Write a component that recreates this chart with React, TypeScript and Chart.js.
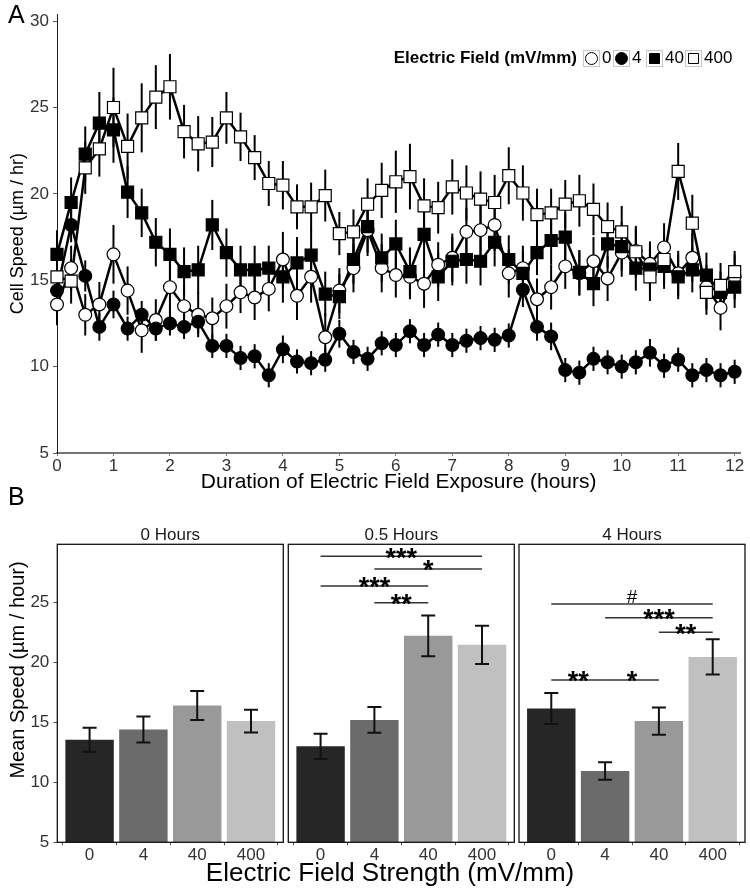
import React, { useEffect, useRef } from "react";
import { Chart, registerables } from "chart.js";

Chart.register(...registerables);

const FONT = "'Liberation Sans', Arial, Helvetica, sans-serif";

// ---------- Panel A data ----------
const timeHours = [0, 0.25, 0.5, 0.75, 1, 1.25, 1.5, 1.75, 2, 2.25, 2.5, 2.75, 3, 3.25, 3.5, 3.75, 4, 4.25, 4.5, 4.75, 5, 5.25, 5.5, 5.75, 6, 6.25, 6.5, 6.75, 7, 7.25, 7.5, 7.75, 8, 8.25, 8.5, 8.75, 9, 9.25, 9.5, 9.75, 10, 10.25, 10.5, 10.75, 11, 11.25, 11.5, 11.75, 12];

const speed0 = [13.6, 15.7, 13.0, 13.6, 16.5, 14.4, 12.1, 12.7, 14.6, 13.5, 13.0, 12.8, 13.5, 14.3, 14.0, 14.5, 16.2, 14.1, 15.2, 11.7, 14.4, 15.7, 17.9, 15.7, 15.3, 15.2, 14.8, 15.9, 16.3, 17.8, 17.9, 18.2, 15.4, 15.7, 13.9, 14.6, 15.8, 15.4, 16.1, 15.1, 16.6, 16.7, 15.95, 16.9, 15.4, 16.3, 14.6, 13.4, 15.2];
const err0 = [1.2, 1.3, 1.2, 1.3, 1.7, 1.4, 1.3, 1.2, 1.5, 1.3, 1.3, 1.2, 1.3, 1.2, 1.3, 1.3, 1.6, 1.4, 1.5, 1.4, 1.3, 1.4, 1.5, 1.4, 1.3, 1.3, 1.4, 1.3, 1.4, 1.4, 1.5, 1.5, 1.4, 1.3, 1.2, 1.3, 1.3, 1.3, 1.4, 1.3, 1.4, 1.3, 1.3, 1.4, 1.3, 1.4, 1.3, 1.3, 1.3];

const speed4 = [14.4, 18.2, 15.25, 12.3, 13.6, 12.2, 13.0, 12.2, 12.5, 12.3, 12.6, 11.2, 11.2, 10.5, 10.6, 9.5, 11.0, 10.3, 10.2, 10.4, 11.9, 10.85, 10.45, 11.35, 11.25, 12.05, 11.25, 11.85, 11.25, 11.5, 11.65, 11.55, 11.8, 14.45, 12.3, 11.75, 9.8, 9.65, 10.45, 10.25, 10.0, 10.25, 10.8, 10.05, 10.4, 9.5, 9.8, 9.5, 9.7];
const err4 = [0.8, 1.0, 0.9, 0.8, 0.8, 0.7, 0.8, 0.7, 0.7, 0.7, 0.7, 0.7, 0.7, 0.7, 0.7, 0.7, 0.8, 0.7, 0.7, 0.7, 0.8, 0.7, 0.7, 0.7, 0.7, 0.7, 0.7, 0.7, 0.7, 0.7, 0.7, 0.7, 0.7, 1.0, 0.8, 0.8, 0.7, 0.7, 0.7, 0.7, 0.7, 0.7, 0.8, 0.7, 0.7, 0.7, 0.7, 0.7, 0.7];

const speed40 = [16.5, 19.5, 22.3, 24.1, 23.7, 20.1, 18.9, 17.2, 16.5, 15.5, 15.6, 18.2, 16.6, 15.6, 15.6, 15.7, 15.2, 16.0, 16.45, 14.2, 14.05, 16.2, 18.1, 16.3, 17.1, 15.5, 17.65, 15.2, 16.1, 16.2, 16.1, 17.2, 16.2, 15.4, 16.6, 17.3, 17.5, 15.45, 14.8, 17.1, 16.95, 15.7, 15.65, 15.8, 15.2, 15.6, 15.3, 14.3, 14.6];
const err40 = [1.4, 1.45, 1.6, 1.8, 1.9, 1.5, 1.4, 1.4, 1.5, 1.4, 1.4, 1.45, 1.4, 1.4, 1.4, 1.3, 1.5, 1.5, 1.5, 1.3, 1.3, 1.4, 1.5, 1.4, 1.4, 1.4, 1.5, 1.4, 1.4, 1.4, 1.4, 1.4, 1.4, 1.3, 1.3, 1.4, 1.4, 1.3, 1.3, 1.4, 1.4, 1.3, 1.3, 1.3, 1.3, 1.3, 1.3, 1.2, 1.2];

const speed400 = [15.2, 14.95, 21.5, 22.6, 25.0, 22.75, 24.4, 25.6, 26.2, 23.6, 22.9, 23.0, 24.4, 23.3, 22.1, 20.6, 20.5, 19.25, 19.25, 19.9, 17.7, 17.8, 19.4, 20.2, 20.7, 21.0, 19.3, 19.2, 20.4, 20.05, 19.7, 19.5, 21.05, 20.05, 18.8, 18.9, 19.4, 19.6, 19.1, 18.1, 17.8, 16.65, 15.2, 16.2, 21.3, 18.3, 14.3, 14.7, 15.5];
const err400 = [1.3, 1.3, 1.5, 1.6, 2.3, 1.9, 2.0, 1.85, 1.9, 1.55, 1.6, 1.45, 1.5, 1.4, 1.3, 1.3, 1.4, 1.3, 1.4, 1.5, 1.25, 1.3, 1.5, 1.6, 1.8, 1.9, 1.6, 1.5, 1.6, 1.6, 1.6, 1.6, 1.65, 1.6, 1.5, 1.4, 1.4, 1.5, 1.5, 1.4, 1.5, 1.5, 1.4, 1.4, 1.65, 1.65, 1.3, 1.3, 1.2];

const xTicksA = [0, 1, 2, 3, 4, 5, 6, 7, 8, 9, 10, 11, 12];
const yTicksA = [5, 10, 15, 20, 25, 30];
const fieldLabels = ["0", "4", "40", "400"];
const legendTitle = "Electric Field (mV/mm)";

// ---------- Panel B data ----------
const facetTitles = ["0 Hours", "0.5 Hours", "4 Hours"];
const mean0h = [13.55, 14.4, 16.4, 15.1];
const sem0h = [1.0, 1.08, 1.2, 0.95];
const mean05h = [13.0, 15.2, 22.2, 21.45];
const sem05h = [1.05, 1.08, 1.7, 1.6];
const mean4h = [16.15, 10.95, 15.1, 20.45];
const sem4h = [1.3, 0.73, 1.13, 1.46];
const yTicksB = [5, 10, 15, 20, 25];

const sig0h: { from: number; to: number; y: number; label: string }[] = [];
const sig05h = [
  { from: 0, to: 3, y: 28.83, label: "***" },
  { from: 1, to: 3, y: 27.78, label: "*" },
  { from: 0, to: 2, y: 26.36, label: "***" },
  { from: 1, to: 2, y: 24.97, label: "**" },
];
const sig4h = [
  { from: 0, to: 3, y: 24.86, label: "#" },
  { from: 1, to: 3, y: 23.72, label: "***" },
  { from: 2, to: 3, y: 22.5, label: "**" },
  { from: 0, to: 1, y: 18.53, label: "**" },
  { from: 1, to: 2, y: 18.53, label: "*" },
];

const barColors = ["#262626", "#6b6b6b", "#999999", "#c0c0c0"];

const seriesA = [
  { label: fieldLabels[0], values: speed0, errs: err0, style: "circle", fill: "#ffffff" },
  { label: fieldLabels[1], values: speed4, errs: err4, style: "circle", fill: "#000000" },
  { label: fieldLabels[2], values: speed40, errs: err40, style: "rect", fill: "#000000" },
  { label: fieldLabels[3], values: speed400, errs: err400, style: "rect", fill: "#ffffff" },
];

function TimeCourseChart() {
  const ref = useRef<HTMLCanvasElement>(null);
  useEffect(() => {
    if (!ref.current) return;
    const errorBars = {
      id: "errorBarsA",
      beforeDatasetsDraw(chart: any) {
        const { ctx, scales } = chart;
        const x = scales.x, y = scales.y;
        ctx.save();
        ctx.strokeStyle = "#000";
        ctx.lineWidth = 2;
        seriesA.forEach((s) => {
          s.values.forEach((v, i) => {
            const px = x.getPixelForValue(timeHours[i]);
            ctx.beginPath();
            ctx.moveTo(px, y.getPixelForValue(v - s.errs[i]));
            ctx.lineTo(px, y.getPixelForValue(v + s.errs[i]));
            ctx.stroke();
          });
        });
        ctx.restore();
      },
    };
    const legend = {
      id: "legendA",
      afterDraw(chart: any) {
        const ctx = chart.ctx;
        ctx.save();
        ctx.font = `bold 17px ${FONT}`;
        ctx.fillStyle = "#000";
        ctx.textAlign = "right";
        ctx.textBaseline = "middle";
        ctx.fillText(legendTitle, 577, 58.5);
        const boxX = [583, 613, 646, 685];
        ctx.font = `17px ${FONT}`;
        ctx.textAlign = "left";
        seriesA.forEach((s, i) => {
          const bx = boxX[i];
          ctx.fillStyle = "#fff";
          ctx.fillRect(bx, 50, 17, 17);
          ctx.strokeStyle = "#c8c8c8";
          ctx.lineWidth = 1;
          ctx.strokeRect(bx + 0.5, 50.5, 16, 16);
          const cx = bx + 8.5, cy = 58.5;
          ctx.beginPath();
          if (s.style === "circle") ctx.arc(cx, cy, 6, 0, Math.PI * 2);
          else ctx.rect(cx - 5, cy - 5, 10, 10);
          ctx.fillStyle = s.fill;
          ctx.fill();
          ctx.strokeStyle = "#000";
          ctx.stroke();
          ctx.fillStyle = "#000";
          ctx.fillText(s.label, bx + 19, cy);
        });
        ctx.restore();
      },
    };
    const toPoints = (vals: number[]) => vals.map((v, i) => ({ x: timeHours[i], y: v }));
    const lineSets = seriesA.map((s, i) => ({
      label: s.label + " line",
      data: toPoints(s.values),
      borderColor: "#000",
      borderWidth: 2.5,
      pointRadius: 0,
      tension: 0,
      order: 20 - i,
    }));
    const pointSets = seriesA.map((s, i) => ({
      label: s.label,
      data: toPoints(s.values),
      showLine: false,
      pointStyle: s.style as any,
      pointRadius: s.style === "rect" ? 8.5 : 6.4,
      pointBackgroundColor: s.fill,
      pointBorderColor: "#000",
      pointBorderWidth: 1.2,
      order: 10 - i,
      clip: false as any,
    }));
    const chart = new Chart(ref.current, {
      type: "line",
      data: { datasets: [...lineSets, ...pointSets] as any },
      options: {
        responsive: false,
        animation: false,
        layout: { padding: { left: 0, right: 4, top: 8, bottom: 0 } },
        plugins: { legend: { display: false }, tooltip: { enabled: false } },
        scales: {
          x: {
            type: "linear",
            min: 0,
            max: 12.1,
            afterBuildTicks: (s: any) => {
              s.ticks = xTicksA.map((v) => ({ value: v }));
            },
            afterFit: (s: any) => {
              s.height = 47;
            },
            ticks: { font: { family: FONT, size: 17 }, color: "#333", padding: 0, maxRotation: 0, autoSkip: false },
            grid: { display: true, drawOnChartArea: false, drawTicks: true, tickLength: 3, color: "#777" },
            border: { display: true, color: "#777", width: 2 },
            title: {
              display: true,
              text: "Duration of Electric Field Exposure (hours)",
              font: { family: FONT, size: 21 },
              color: "#000",
              padding: { top: 0, bottom: 5 },
            },
          },
          y: {
            type: "linear",
            min: 5,
            max: 30.4,
            afterBuildTicks: (s: any) => {
              s.ticks = yTicksA.map((v) => ({ value: v }));
            },
            afterFit: (s: any) => {
              s.width = 57;
            },
            ticks: { font: { family: FONT, size: 17 }, color: "#333", padding: 4 },
            grid: { display: true, drawOnChartArea: false, drawTicks: true, tickLength: 4, color: "#555" },
            border: { display: true, color: "#222", width: 1 },
            title: {
              display: true,
              text: "Cell Speed (µm / hr)",
              font: { family: FONT, size: 18 },
              color: "#000",
              padding: { top: 7, bottom: 0 },
            },
          },
        },
      },
      plugins: [errorBars, legend],
    });
    return () => chart.destroy();
  }, []);
  return <canvas ref={ref} width={750} height={500} style={{ position: "absolute", left: 0, top: 0, width: 750, height: 500 }} />;
}

type Sig = { from: number; to: number; y: number; label: string };

function FacetChart(props: {
  left: number;
  width: number;
  padLeft: number;
  padRight: number;
  showY: boolean;
  title: string;
  means: number[];
  errs: number[];
  sigs: Sig[];
}) {
  const ref = useRef<HTMLCanvasElement>(null);
  const { left, width, padLeft, padRight, showY, title, means, errs, sigs } = props;
  useEffect(() => {
    if (!ref.current) return;
    const decor = {
      id: "facetDecor",
      afterDatasetsDraw(chart: any) {
        const { ctx, scales } = chart;
        const x = scales.x, y = scales.y;
        ctx.save();
        ctx.strokeStyle = "#111";
        ctx.lineWidth = 2;
        means.forEach((m, i) => {
          const px = x.getPixelForValue(i);
          const top = y.getPixelForValue(m + errs[i]);
          const bot = y.getPixelForValue(m - errs[i]);
          ctx.beginPath();
          ctx.moveTo(px, top);
          ctx.lineTo(px, bot);
          ctx.moveTo(px - 7, top);
          ctx.lineTo(px + 7, top);
          ctx.moveTo(px - 7, bot);
          ctx.lineTo(px + 7, bot);
          ctx.stroke();
        });
        sigs.forEach((s) => {
          const x1 = x.getPixelForValue(s.from);
          const x2 = x.getPixelForValue(s.to);
          const py = y.getPixelForValue(s.y);
          ctx.strokeStyle = "#333";
          ctx.lineWidth = 1.5;
          ctx.beginPath();
          ctx.moveTo(x1, py);
          ctx.lineTo(x2, py);
          ctx.stroke();
          const isStar = s.label.indexOf("*") >= 0;
          ctx.fillStyle = "#000";
          ctx.textAlign = "center";
          ctx.textBaseline = "alphabetic";
          ctx.font = isStar ? `bold 27px ${FONT}` : `19px ${FONT}`;
          ctx.fillText(s.label, (x1 + x2) / 2, isStar ? py + 10.5 : py - 0.5);
        });
        ctx.restore();
      },
      afterDraw(chart: any) {
        const { ctx, chartArea: a } = chart;
        ctx.save();
        ctx.strokeStyle = "#111";
        ctx.lineWidth = 1.3;
        ctx.strokeRect(a.left, a.top, a.right - a.left, a.bottom - a.top);
        ctx.fillStyle = "#1a1a1a";
        ctx.font = `17px ${FONT}`;
        ctx.textAlign = "center";
        ctx.textBaseline = "middle";
        ctx.fillText(title, (a.left + a.right) / 2, a.top - 9);
        if (showY) {
          ctx.save();
          ctx.translate(18, 170);
          ctx.rotate(-Math.PI / 2);
          ctx.fillStyle = "#000";
          ctx.font = `20px ${FONT}`;
          ctx.fillText("Mean Speed (µm / hour)", 0, 0);
          ctx.restore();
        }
        ctx.restore();
      },
    };
    const chart = new Chart(ref.current, {
      type: "bar",
      data: {
        datasets: [
          {
            data: means.map((m, i) => ({ x: i, y: m })),
            backgroundColor: barColors,
            borderWidth: 0,
            barPercentage: 0.9,
            categoryPercentage: 1,
          },
        ],
      },
      options: {
        responsive: false,
        animation: false,
        layout: { padding: { left: padLeft, right: padRight, top: 44.3, bottom: 0 } },
        plugins: { legend: { display: false }, tooltip: { enabled: false } },
        scales: {
          x: {
            type: "linear",
            min: -0.6,
            max: 3.6,
            offset: false,
            afterBuildTicks: (s: any) => {
              s.ticks = fieldLabels.map((_, i) => ({ value: i }));
            },
            afterFit: (s: any) => {
              s.height = 45.7;
            },
            ticks: {
              font: { family: FONT, size: 17 },
              color: "#333",
              padding: 0,
              maxRotation: 0,
              autoSkip: false,
              callback: (v: any) => fieldLabels[Math.round(Number(v))] ?? "",
            },
            grid: { display: true, drawOnChartArea: false, drawTicks: true, tickLength: 3, color: "#555" },
            border: { display: false },
          },
          y: {
            type: "linear",
            display: showY,
            min: 5,
            max: 29.83,
            afterBuildTicks: (s: any) => {
              s.ticks = yTicksB.map((v) => ({ value: v }));
            },
            afterFit: (s: any) => {
              s.width = showY ? 57.3 : 0;
            },
            ticks: { font: { family: FONT, size: 17 }, color: "#333", padding: 4 },
            grid: { display: true, drawOnChartArea: false, drawTicks: true, tickLength: 4, color: "#555" },
            border: { display: false },
            title: { display: false },
          },
        },
      },
      plugins: [decor],
    });
    return () => chart.destroy();
  }, []);
  return (
    <canvas
      ref={ref}
      width={width}
      height={388}
      style={{ position: "absolute", left, top: 500, width, height: 388 }}
    />
  );
}

export default function App() {
  return (
    <div
      style={{
        position: "absolute",
        left: 0,
        top: 0,
        width: 750,
        height: 888,
        background: "#fff",
        fontFamily: FONT,
        overflow: "hidden",
      }}
    >
      <TimeCourseChart />
      <FacetChart left={0} width={286} padLeft={0} padRight={2.7} showY={true} title={facetTitles[0]} means={mean0h} errs={sem0h} sigs={sig0h} />
      <FacetChart left={286} width={230} padLeft={2.3} padRight={1.7} showY={false} title={facetTitles[1]} means={mean05h} errs={sem05h} sigs={sig05h} />
      <FacetChart left={516} width={234} padLeft={3} padRight={5} showY={false} title={facetTitles[2]} means={mean4h} errs={sem4h} sigs={sig4h} />
      <div style={{ position: "absolute", left: 8, top: 1.7, fontSize: 25, lineHeight: "25px", color: "#000" }}>A</div>
      <div style={{ position: "absolute", left: 8, top: 483.7, fontSize: 25, lineHeight: "25px", color: "#000" }}>B</div>
      <div
        style={{
          position: "absolute",
          left: 0,
          width: 780,
          top: 859,
          textAlign: "center",
          fontSize: 26,
          lineHeight: "26px",
          color: "#000",
          whiteSpace: "nowrap",
        }}
      >
        Electric Field Strength (mV/mm)
      </div>
    </div>
  );
}
